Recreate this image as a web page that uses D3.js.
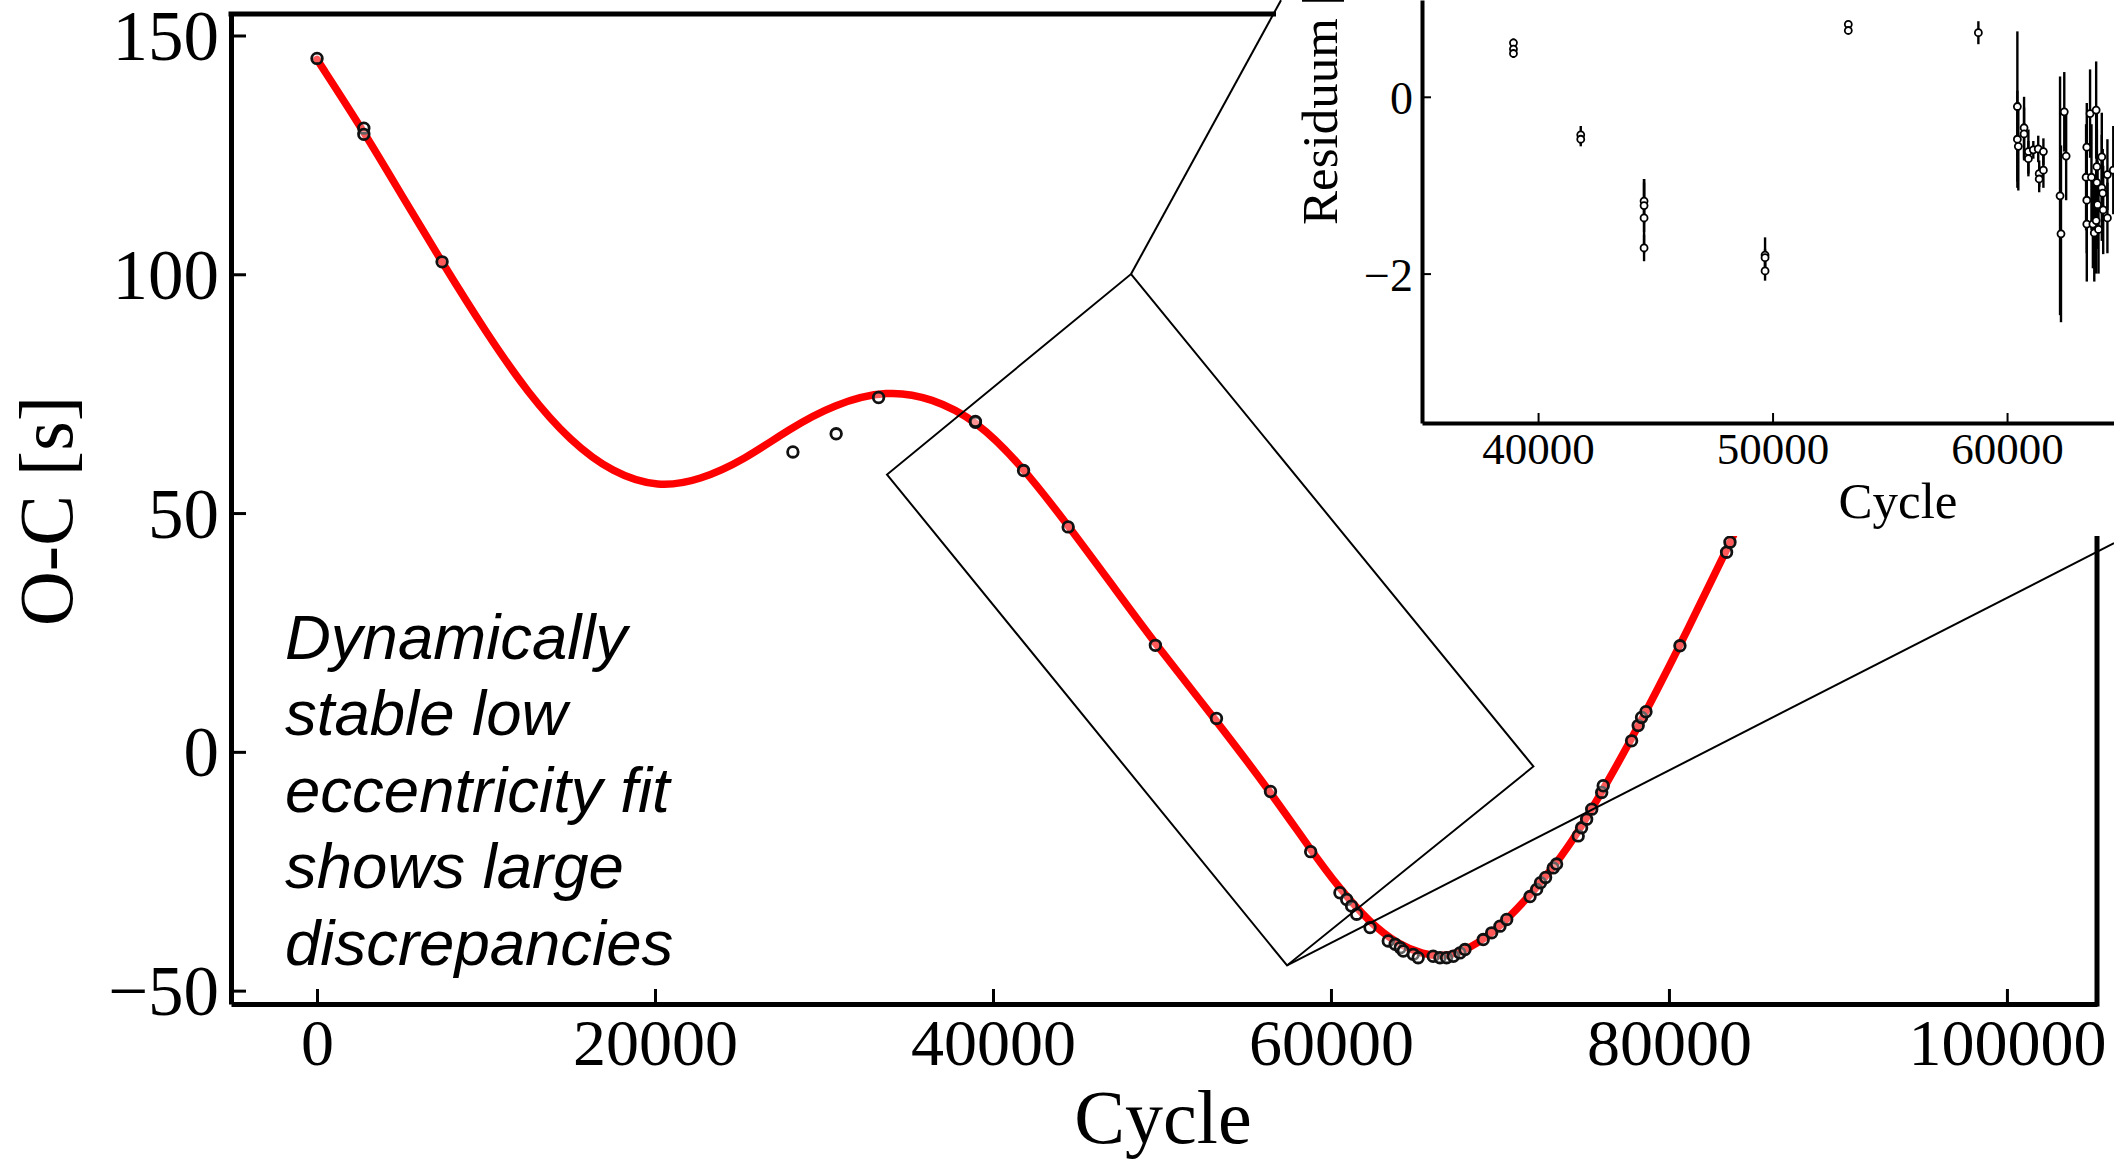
<!DOCTYPE html>
<html><head><meta charset="utf-8">
<script src="https://cdn.jsdelivr.net/npm/d3@7/dist/d3.min.js"></script>
<style>body{margin:0;background:#fff;overflow:hidden}</style>
</head><body>
<svg id="chart" width="2114" height="1161"></svg>
<script>
// ---------- data ----------
const obsCycle = [0, 2770, 2770, 7400, 28160, 30720, 33230, 38960, 38960, 41810, 44450, 49610, 53225, 56420, 58800,
  60530, 60930, 61220, 61520, 62310, 63390, 63800, 64100, 64280, 64870, 65160,
  66050, 66450, 66840, 67240, 67630, 67930, 69010, 69510, 70000, 70400,
  71780, 72170, 72400, 72700, 73150, 73350, 74630, 74830, 75130, 75430, 76020, 76110,
  77790, 78180, 78380, 78640, 80650, 83410, 83610];
const obsOC = [145.2, 130.6, 129.3, 102.6, 62.8, 66.6, 74.2, 69.0, 69.2, 58.9, 47.1, 22.3, 7.0, -8.3, -20.9,
  -29.5, -30.9, -32.3, -34.0, -36.8, -39.6, -40.3, -41.0, -41.7, -42.4, -43.1,
  -42.8, -43.1, -43.1, -42.8, -42.1, -41.4, -39.3, -37.9, -36.5, -35.1,
  -30.3, -28.8, -27.4, -26.3, -24.3, -23.5, -17.6, -15.9, -14.1, -12.0, -8.5, -7.1,
  2.3, 5.5, 7.2, 8.4, 22.2, 41.8, 43.9];

const fitCycle = [0, 2770, 5000, 7400, 10000, 12500, 15000, 17500, 20200, 22660, 25300, 27930, 30590, 33760, 36390,
  39040, 41680, 44320, 47000, 49610, 53225, 56420, 58800, 60500, 62300, 64000, 65500, 66500, 67500, 69000,
  70400, 72000, 74000, 76000, 78000, 80650, 83500, 84500];
const fitOC = [145.0, 129.9, 116.6, 102.5, 87.8, 75.0, 65.0, 58.4, 55.3, 56.9, 61.2, 67.6, 72.8, 75.8, 74.1,
  69.4, 60.0, 48.0, 35.2, 22.6, 6.5, -8.4, -20.5, -28.6, -35.8, -40.4, -42.4, -42.8, -42.3, -39.5,
  -35.2, -29.2, -20.5, -8.6, 4.0, 22.2, 43.0, 50.3];

const resCycle = [38950, 38950, 38950, 41820, 41820, 44520, 44520, 44520, 44520, 49680, 49680, 49680, 53230, 53230, 58777,
  60440, 60440, 60480, 60725, 60725, 60910, 60910, 61120, 61330, 61370, 61370, 61550, 61550,
  62260, 62300, 62440, 62520,
  63370, 63400, 63400, 63400, 63540, 63600, 63660, 63720, 63800, 63830, 63830, 63860, 63800, 63900,
  64040, 64040, 64080, 64100, 64280, 64280, 64530];
const resVal = [0.61, 0.54, 0.49, -0.43, -0.48, -1.18, -1.23, -1.37, -1.71, -1.79, -1.82, -1.97, 0.82, 0.75, 0.725,
  -0.11, -0.48, -0.56, -0.35, -0.42, -0.62, -0.70, -0.60, -0.59, -0.87, -0.93, -0.62, -0.83,
  -1.12, -1.55, -0.17, -0.67,
  -0.91, -0.57, -1.17, -1.44, -0.19, -0.91, -1.44, -1.54, -0.15, -0.79, -0.97, -1.22, -1.40, -1.50,
  -0.68, -1.03, -1.09, -1.28, -1.37, -0.88, -0.83];
const resErr = [0.05, 0.05, 0.05, 0.10, 0.08, 0.25, 0.30, 0.40, 0.15, 0.20, 0.10, 0.11, 0.03, 0.03, 0.13,
  0.85, 0.55, 0.50, 0.35, 0.30, 0.25, 0.20, 0.10, 0.15, 0.15, 0.15, 0.15, 0.20,
  1.35, 1.00, 0.45, 0.50,
  0.60, 0.50, 0.60, 0.65, 0.50, 0.60, 0.50, 0.55, 0.55, 0.60, 0.60, 0.50, 0.60, 0.50,
  0.50, 0.60, 0.50, 0.50, 0.40, 0.40, 0.50];

const mainXTicks = [0, 20000, 40000, 60000, 80000, 100000];
const mainYTicks = [-50, 0, 50, 100, 150];
const insetXTicks = [40000, 50000, 60000];
const insetYTicks = [-2, 0];
const noteLines = ["Dynamically", "stable low", "eccentricity fit", "shows large", "discrepancies"];
// zoom-box annotation corners (top, right, bottom, left) in main-plot data units
const zoomBoxCycle = [48170, 71980, 57400, 33730];
const zoomBoxOC = [100.05, -3.06, -44.73, 58.06];
// connector lines from the zoom box toward the inset (start, end) in data units
const connCycle = [[48170, 57045], [57400, 106338]];
const connOC = [[100.05, 157.4], [-44.73, 43.7]];

// ---------- setup ----------
const svg = d3.select("#chart");
svg.append("rect").attr("width", 2114).attr("height", 1161).attr("fill", "#fff");
const serif = "'Liberation Serif','Times New Roman',Times,serif";
const fmtMinus = d => (d < 0 ? "\u2212" + Math.abs(d) : String(d));

const x = d3.scaleLinear().domain([-5090, 105330]).range([231, 2097]);
const y = d3.scaleLinear().domain([-52.8, 154.5]).range([1004, 14]);

// ---------- main axes ----------
const gx = svg.append("g").attr("transform", "translate(0,1004)")
  .call(d3.axisBottom(x).tickValues(mainXTicks).tickSizeInner(-15).tickSizeOuter(0).tickFormat(d3.format("d")));
gx.select(".domain").attr("stroke", "#000").attr("stroke-width", 5);
gx.selectAll(".tick line").attr("stroke", "#000").attr("stroke-width", 3);
gx.selectAll(".tick text").attr("y", 61).attr("dy", null)
  .attr("font-family", serif).attr("font-size", 66).attr("fill", "#000");

const gy = svg.append("g").attr("transform", "translate(231,0)")
  .call(d3.axisLeft(y).tickValues(mainYTicks).tickSizeInner(-15).tickSizeOuter(0).tickFormat(fmtMinus));
gy.select(".domain").attr("stroke", "#000").attr("stroke-width", 5);
gy.selectAll(".tick line").attr("stroke", "#000").attr("stroke-width", 3);
gy.selectAll(".tick text").attr("x", -12).attr("dy", "0.34em")
  .attr("font-family", serif).attr("font-size", 71).attr("fill", "#000");

// top and right spines
svg.append("line").attr("x1", x.range()[0] - 2.5).attr("x2", x.range()[1] + 2.5)
  .attr("y1", y.range()[1]).attr("y2", y.range()[1]).attr("stroke", "#000").attr("stroke-width", 5);
svg.append("line").attr("x1", x.range()[1]).attr("x2", x.range()[1])
  .attr("y1", y.range()[1]).attr("y2", y.range()[0] + 2.5).attr("stroke", "#000").attr("stroke-width", 5);

// axis titles
svg.append("text").attr("x", 1163).attr("y", 1143).attr("text-anchor", "middle")
  .attr("font-family", serif).attr("font-size", 76).text("Cycle");
svg.append("text").attr("transform", "translate(72,511) rotate(-90)").attr("text-anchor", "middle")
  .attr("font-family", serif).attr("font-size", 76).text("O-C [s]");

// ---------- fit curve ----------
const fitData = fitCycle.map((c, i) => [c, fitOC[i]]);
svg.append("path").datum(fitData)
  .attr("d", d3.line().x(d => x(d[0])).y(d => y(d[1])).curve(d3.curveBasis))
  .attr("fill", "none").attr("stroke", "#ff0000").attr("stroke-width", 7.5).attr("stroke-linecap", "round");

// ---------- observed points ----------
const obsData = obsCycle.map((c, i) => [c, obsOC[i]]);
svg.append("g").selectAll("circle").data(obsData).join("circle")
  .attr("cx", d => x(d[0])).attr("cy", d => y(d[1])).attr("r", 5.3)
  .attr("fill", "rgba(255,255,255,0.35)").attr("stroke", "#111").attr("stroke-width", 2.8);

// ---------- annotation text ----------
svg.append("g").selectAll("text").data(noteLines).join("text")
  .attr("x", 285).attr("y", (d, i) => 658.5 + i * 76.6)
  .attr("font-family", "'Liberation Sans',Arial,Helvetica,sans-serif")
  .attr("font-style", "italic").attr("font-size", 63.5).attr("fill", "#000").text(d => d);

// ---------- inset ----------
const inset = svg.append("g");
inset.append("rect").attr("x", 1276).attr("y", 0).attr("width", 2114 - 1276).attr("height", 536).attr("fill", "#fff");

const xi = d3.scaleLinear().domain([35050, 65000]).range([1422, 2124.3]);
const yi = d3.scaleLinear().domain([-3.69, 1.095]).range([423, 0]);

const gxi = inset.append("g").attr("transform", "translate(0,423)")
  .call(d3.axisBottom(xi).tickValues(insetXTicks).tickSizeInner(-10).tickSizeOuter(0).tickFormat(d3.format("d")));
gxi.select(".domain").attr("stroke", "#000").attr("stroke-width", 4);
gxi.selectAll(".tick line").attr("stroke", "#000").attr("stroke-width", 2);
gxi.selectAll(".tick text").attr("y", 41).attr("dy", null)
  .attr("font-family", serif).attr("font-size", 45).attr("fill", "#000");

const gyi = inset.append("g").attr("transform", "translate(1422,0)")
  .call(d3.axisLeft(yi).tickValues(insetYTicks).tickSizeInner(-9).tickSizeOuter(0).tickFormat(fmtMinus));
gyi.select(".domain").attr("stroke", "#000").attr("stroke-width", 4);
gyi.selectAll(".tick line").attr("stroke", "#000").attr("stroke-width", 2);
gyi.selectAll(".tick text").attr("x", -9).attr("dy", "0.36em")
  .attr("font-family", serif).attr("font-size", 46).attr("fill", "#000");

inset.append("text").attr("x", 1898).attr("y", 518).attr("text-anchor", "middle")
  .attr("font-family", serif).attr("font-size", 51).text("Cycle");
inset.append("text").attr("transform", "translate(1337,225) rotate(-90)").attr("text-anchor", "start")
  .attr("font-family", serif).attr("font-size", 51).text("Residuum [s]");

const resData = resCycle.map((c, i) => ({c, v: resVal[i], e: resErr[i]}));
inset.append("g").selectAll("line").data(resData).join("line")
  .attr("x1", d => xi(d.c)).attr("x2", d => xi(d.c))
  .attr("y1", d => yi(d.v + d.e)).attr("y2", d => yi(d.v - d.e))
  .attr("stroke", "#000").attr("stroke-width", 2.4);
inset.append("g").selectAll("circle").data(resData).join("circle")
  .attr("cx", d => xi(d.c)).attr("cy", d => yi(d.v)).attr("r", 3.5)
  .attr("fill", "#fff").attr("stroke", "#000").attr("stroke-width", 1.8);

// ---------- zoom box + connectors ----------
const boxPts = zoomBoxCycle.map((c, i) => [x(c), y(zoomBoxOC[i])]);
svg.append("polygon").attr("points", boxPts.map(p => p.join(",")).join(" "))
  .attr("fill", "none").attr("stroke", "#000").attr("stroke-width", 2);
svg.append("g").selectAll("line").data(connCycle.map((c, i) => ({c, v: connOC[i]}))).join("line")
  .attr("x1", d => x(d.c[0])).attr("y1", d => y(d.v[0]))
  .attr("x2", d => x(d.c[1])).attr("y2", d => y(d.v[1]))
  .attr("stroke", "#000").attr("stroke-width", 2);
</script>
</body></html>
